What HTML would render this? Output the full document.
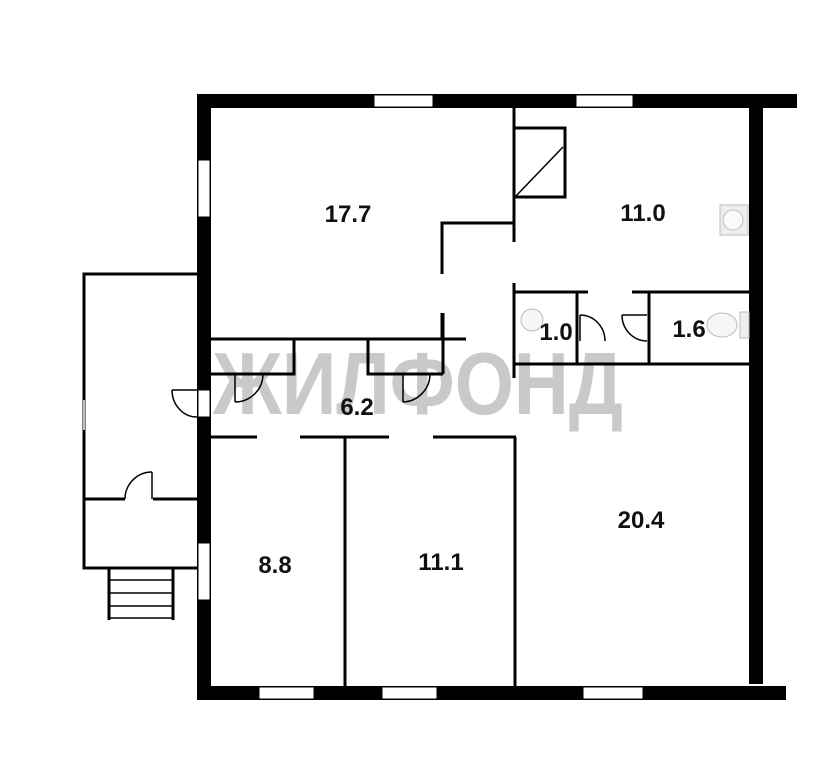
<!DOCTYPE html>
<html><head><meta charset="utf-8"><style>html,body{margin:0;padding:0;background:#fff}svg{display:block}</style></head>
<body>
<svg width="839" height="768" viewBox="0 0 839 768" xmlns="http://www.w3.org/2000/svg">
<rect width="839" height="768" fill="#fff"/>
<!-- watermark -->
<text x="418" y="414" font-family="Liberation Sans, sans-serif" font-weight="bold" font-size="88" fill="#c9c9c9" text-anchor="middle" textLength="410" lengthAdjust="spacingAndGlyphs">ЖИЛФОНД</text>
<g fill="#000">
<rect x="197" y="94" width="600" height="14"/>
<rect x="197" y="94" width="14" height="606"/>
<rect x="197" y="686" width="589" height="14"/>
<rect x="749" y="107" width="14" height="577"/>
</g>
<g fill="#fff" stroke="#000" stroke-width="1">
<rect x="374" y="95" width="59" height="12"/>
<rect x="576" y="95" width="57" height="12"/>
<rect x="198" y="160" width="12" height="57"/>
<rect x="198" y="390" width="12" height="27"/>
<rect x="198" y="543" width="12" height="57"/>
<rect x="259" y="687" width="55" height="12"/>
<rect x="382" y="687" width="55" height="12"/>
<rect x="583" y="687" width="60" height="12"/>
</g>
<g stroke="#000" stroke-width="3" fill="none">
<polyline points="197,274 84,274 84,568 197,568"/>
<line x1="84" y1="499" x2="125" y2="499"/>
<line x1="153" y1="499" x2="197" y2="499"/>
<line x1="109" y1="568" x2="109" y2="620"/>
<line x1="173" y1="568" x2="173" y2="620"/>
<line x1="514" y1="107" x2="514" y2="242"/>
<rect x="514" y="128" width="51" height="69"/>
<polyline points="514,223 442,223 442,274"/>
<line x1="442" y1="313" x2="442" y2="339"/>
<line x1="211" y1="339" x2="466" y2="339"/>
<polyline points="294,339 294,374 211,374"/>
<polyline points="368,339 368,374 443,374"/>
<line x1="443" y1="313" x2="443" y2="374"/>
<line x1="514" y1="283" x2="514" y2="378"/>
<line x1="514" y1="292" x2="588" y2="292"/>
<line x1="632" y1="292" x2="749" y2="292"/>
<line x1="514" y1="364" x2="749" y2="364"/>
<line x1="577" y1="292" x2="577" y2="364"/>
<line x1="649" y1="292" x2="649" y2="364"/>
<line x1="211" y1="437" x2="257" y2="437"/>
<line x1="300" y1="437" x2="389" y2="437"/>
<line x1="433" y1="437" x2="516" y2="437"/>
<line x1="345" y1="437" x2="345" y2="686"/>
<line x1="515" y1="437" x2="515" y2="686"/>
</g>
<g stroke="#000" stroke-width="1.5" fill="none">
<line x1="110" y1="580" x2="172" y2="580"/>
<line x1="110" y1="593" x2="172" y2="593"/>
<line x1="110" y1="606" x2="172" y2="606"/>
<line x1="110" y1="618" x2="172" y2="618"/>
<line x1="516" y1="196" x2="563" y2="147"/>
<line x1="84" y1="400" x2="84" y2="430" stroke="#fff"/>
<line x1="172" y1="390" x2="197" y2="390"/><path d="M172,390 A25,27 0 0 0 197,417"/>
<line x1="152" y1="472" x2="152" y2="499"/><path d="M152,472 A27,27 0 0 0 125,499"/>
<line x1="235" y1="374" x2="235" y2="402"/><path d="M235,402 A28,28 0 0 0 263,374"/>
<line x1="403" y1="374" x2="403" y2="402"/><path d="M403,402 A28,28 0 0 0 430,374"/>
<line x1="580" y1="315" x2="580" y2="341"/><path d="M580,315 A25,26 0 0 1 605,341"/>
<line x1="622" y1="315" x2="647" y2="315"/><path d="M622,315 A25,26 0 0 0 647,341"/>
</g>
<g fill="#eee" stroke="#bbb" stroke-width="1">
<rect x="720" y="205" width="28" height="30"/><circle cx="733" cy="220" r="10" fill="#fafafa"/>
<circle cx="532" cy="320" r="11" fill="#f6f6f6"/>
<ellipse cx="722" cy="325" rx="15" ry="12" fill="#f6f6f6"/><rect x="740" y="312" width="9" height="26"/>
</g>
<g font-family="Liberation Sans, sans-serif" font-weight="bold" font-size="24" fill="#111" text-anchor="middle">
<text x="348" y="222">17.7</text>
<text x="643" y="221">11.0</text>
<text x="556" y="340">1.0</text>
<text x="689" y="337">1.6</text>
<text x="357" y="415">6.2</text>
<text x="275" y="573">8.8</text>
<text x="441" y="570">11.1</text>
<text x="641" y="528">20.4</text>
</g>
</svg>
</body></html>
